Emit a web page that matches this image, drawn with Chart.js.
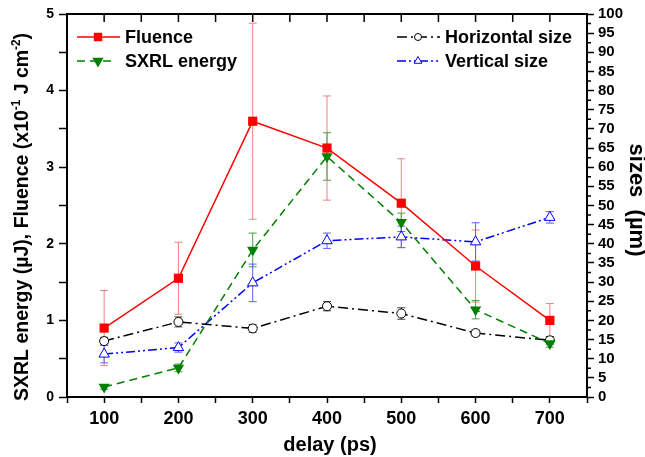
<!DOCTYPE html>
<html><head><meta charset="utf-8">
<script src="https://cdn.jsdelivr.net/npm/chart.js@4.4.1/dist/chart.umd.min.js"></script>
<style>html,body{margin:0;padding:0;background:#fff}canvas{display:block}</style>
</head><body>
<canvas id="c" width="645" height="457"></canvas>
<script>
// ---- data ----
const delays = [100, 200, 300, 400, 500, 600, 700];
const fluence = [0.90, 1.55, 3.60, 3.25, 2.53, 1.71, 1.00];
const fluenceErr = [0.49, 0.47, 1.28, 0.68, 0.58, 0.47, 0.22];
const sxrlEnergy = [0.13, 0.38, 1.92, 3.14, 2.28, 1.14, 0.70];
const sxrlErr = [0.03, 0.05, 0.22, 0.31, 0.12, 0.12, 0.05];
const horizontalSize = [14.6, 19.6, 17.9, 23.7, 21.8, 16.7, 14.8];
const horizontalErr = [1.0, 1.3, 1.0, 1.2, 1.5, 0.8, 1.0];
const verticalSize = [11.2, 12.9, 29.8, 40.8, 41.8, 40.5, 46.9];
const verticalErr = [2.3, 1.2, 4.9, 2.0, 2.8, 5.0, 1.5];

const xTickValues = [50, 100, 150, 200, 250, 300, 350, 400, 450, 500, 550, 600, 650, 700, 750];
const xTickLabels = [100, 200, 300, 400, 500, 600, 700];
const leftTickValues = [0, 0.5, 1, 1.5, 2, 2.5, 3, 3.5, 4, 4.5, 5];
const leftTickLabels = [0, 1, 2, 3, 4, 5];
const rightTickValues = [0, 5, 10, 15, 20, 25, 30, 35, 40, 45, 50, 55, 60, 65, 70, 75, 80, 85, 90, 95, 100];
const rightMinorValues = [2.5, 7.5, 12.5, 17.5, 22.5, 27.5, 32.5, 37.5, 42.5, 47.5, 52.5, 57.5, 62.5, 67.5, 72.5, 77.5, 82.5, 87.5, 92.5, 97.5];

const seriesNames = ['Fluence', 'SXRL energy', 'Horizontal size', 'Vertical size'];
const xTitle = 'delay (ps)';
const rightTitle = 'sizes  (\u00b5m)';

const FONT = '"Liberation Sans", Arial, sans-serif';
const pts = ys => delays.map((x, i) => ({x: x, y: ys[i]}));

function marker(ctx, style, x, y, r, rot, fill, stroke, bw) {
  ctx.save();
  ctx.beginPath();
  if (style === 'rect') {
    const s = r * Math.SQRT1_2;
    ctx.rect(x - s, y - s, 2 * s, 2 * s);
  } else if (style === 'triangle') {
    const dir = rot === 180 ? -1 : 1;
    const w = r * Math.sqrt(3) / 2;
    ctx.moveTo(x, y - dir * r);
    ctx.lineTo(x + w, y + dir * r / 2);
    ctx.lineTo(x - w, y + dir * r / 2);
    ctx.closePath();
  } else {
    ctx.arc(x, y, r, 0, Math.PI * 2);
  }
  ctx.fillStyle = fill; ctx.fill();
  if (bw > 0) { ctx.lineWidth = bw; ctx.strokeStyle = stroke; ctx.setLineDash([]); ctx.stroke(); }
  ctx.restore();
}

const errorBars = {
  id: 'errorBars',
  beforeDatasetsDraw(chart) {
    const ctx = chart.ctx;
    chart.data.datasets.forEach(ds => {
      const ys = chart.scales[ds.yAxisID];
      const xs = chart.scales.x;
      ctx.save();
      ctx.strokeStyle = ds.errColor; ctx.lineWidth = 1; ctx.setLineDash([]);
      ds.data.forEach((p, i) => {
        const e = ds.errors[i];
        const px = xs.getPixelForValue(p.x);
        const y1 = ys.getPixelForValue(p.y + e), y0 = ys.getPixelForValue(p.y - e);
        ctx.beginPath();
        ctx.moveTo(px, y0); ctx.lineTo(px, y1);
        ctx.moveTo(px - 4, y0); ctx.lineTo(px + 4, y0);
        ctx.moveTo(px - 4, y1); ctx.lineTo(px + 4, y1);
        ctx.stroke();
      });
      ctx.restore();
    });
  }
};

const decorations = {
  id: 'decorations',
  afterDraw(chart) {
    const ctx = chart.ctx, a = chart.chartArea;
    const xs = chart.scales.x, y2 = chart.scales.y2;
    ctx.save();
    // top frame + inward ticks
    ctx.strokeStyle = '#000'; ctx.lineWidth = 2;
    ctx.beginPath(); ctx.moveTo(a.left - 1, a.top); ctx.lineTo(a.right + 1, a.top); ctx.stroke();
    ctx.lineWidth = 1.5;
    ctx.beginPath();
    xTickValues.forEach(v => { const px = xs.getPixelForValue(v); ctx.moveTo(px, a.top); ctx.lineTo(px, a.top + 8); });
    // right axis minor ticks
    rightMinorValues.forEach(v => { const py = y2.getPixelForValue(v); ctx.moveTo(a.right, py); ctx.lineTo(a.right + 4, py); });
    ctx.stroke();

    // left title (rich text with superscripts)
    const segs = [
      {t: 'SXRL energy (\u00b5J), Fluence (x10', s: 20, r: 0},
      {t: '-1', s: 12, r: -8},
      {t: ' J cm', s: 20, r: 0},
      {t: '-2', s: 12, r: -8},
      {t: ')', s: 20, r: 0}
    ];
    ctx.fillStyle = '#000';
    ctx.textBaseline = 'alphabetic'; ctx.textAlign = 'left';
    let total = 0;
    segs.forEach(g => { ctx.font = 'bold ' + g.s + 'px ' + FONT; g.w = ctx.measureText(g.t).width; total += g.w; });
    ctx.save();
    ctx.translate(28, 217); ctx.rotate(-Math.PI / 2); ctx.scale(0.975, 1);
    let x = -total / 2;
    segs.forEach(g => { ctx.font = 'bold ' + g.s + 'px ' + FONT; ctx.fillText(g.t, x, g.r); x += g.w; });
    ctx.restore();

    // right title
    ctx.save();
    ctx.font = 'bold 22px ' + FONT; ctx.textAlign = 'center';
    ctx.translate(630, 200); ctx.rotate(Math.PI / 2);
    ctx.fillText(rightTitle, 0, 0);
    ctx.restore();

    // x title
    ctx.font = 'bold 20px ' + FONT; ctx.textAlign = 'center';
    ctx.fillText(xTitle, 330, 451);

    // legend
    const entries = [
      {d: 0, x0: 77, x1: 120, mx: 98, tx: 125, y: 37, r: 6},
      {d: 1, x0: 77, x1: 115, mx: 98, tx: 125, y: 61, r: 6.5},
      {d: 2, x0: 397, x1: 440, mx: 418, tx: 445, y: 37, r: 3.5},
      {d: 3, x0: 397, x1: 440, mx: 418, tx: 445, y: 61, r: 4.5}
    ];
    entries.forEach(en => {
      const ds = chart.data.datasets[en.d];
      ctx.save();
      ctx.strokeStyle = ds.borderColor; ctx.lineWidth = ds.borderWidth;
      ctx.setLineDash(ds.borderDash || []);
      ctx.beginPath(); ctx.moveTo(en.x0, en.y); ctx.lineTo(en.x1, en.y); ctx.stroke();
      ctx.restore();
      marker(ctx, ds.pointStyle, en.mx, en.y, en.r, ds.pointRotation || 0, ds.pointBackgroundColor, ds.pointBorderColor, ds.pointBorderWidth);
      ctx.fillStyle = '#000'; ctx.font = 'bold 18px ' + FONT;
      ctx.textAlign = 'left'; ctx.textBaseline = 'middle';
      ctx.fillText(seriesNames[en.d], en.tx, en.y + 1);
    });
    ctx.restore();
  }
};

const axisCommon = {
  grid: {drawOnChartArea: false, drawTicks: true, tickLength: 8, tickWidth: 1.5, tickColor: '#000'},
  border: {display: true, color: '#000', width: 2}
};

new Chart(document.getElementById('c'), {
  type: 'line',
  data: {
    datasets: [
      {label: seriesNames[0], data: pts(fluence), errors: fluenceErr, errColor: '#f08080', yAxisID: 'y',
       borderColor: '#ff0000', borderWidth: 1.5, pointStyle: 'rect', pointRadius: 6.5,
       pointBackgroundColor: '#ff0000', pointBorderColor: '#ff0000', pointBorderWidth: 0, fill: false},
      {label: seriesNames[1], data: pts(sxrlEnergy), errors: sxrlErr, errColor: '#4aa04a', yAxisID: 'y',
       borderColor: '#007f00', borderWidth: 1.5, borderDash: [8, 5], pointStyle: 'triangle', pointRotation: 180, pointRadius: 6.5,
       pointBackgroundColor: '#007f00', pointBorderColor: '#007f00', pointBorderWidth: 0, fill: false},
      {label: seriesNames[2], data: pts(horizontalSize), errors: horizontalErr, errColor: '#404040', yAxisID: 'y2',
       borderColor: '#000000', borderWidth: 1.5, borderDash: [10, 4, 2, 4], pointStyle: 'circle', pointRadius: 4.5,
       pointBackgroundColor: '#ffffff', pointBorderColor: '#000000', pointBorderWidth: 1, fill: false},
      {label: seriesNames[3], data: pts(verticalSize), errors: verticalErr, errColor: '#6060ff', yAxisID: 'y2',
       borderColor: '#0000ff', borderWidth: 1.5, borderDash: [9, 3, 2, 3, 2, 3], pointStyle: 'triangle', pointRadius: 6,
       pointBackgroundColor: '#ffffff', pointBorderColor: '#0000ff', pointBorderWidth: 1, fill: false}
    ]
  },
  options: {
    responsive: false, animation: false,
    layout: {padding: {top: 14, left: 0, right: 0, bottom: 0}},
    plugins: {legend: {display: false}, tooltip: {enabled: false}},
    elements: {line: {tension: 0}},
    scales: {
      x: Object.assign({}, axisCommon, {
        type: 'linear', min: 50, max: 750, position: 'bottom',
        grid: Object.assign({}, axisCommon.grid, {tickLength: 6}),
        afterBuildTicks: s => { s.ticks = xTickValues.map(v => ({value: v})); },
        afterFit: s => { s.height = 60; },
        ticks: {autoSkip: false, maxRotation: 0, padding: 5, color: '#000', font: {family: FONT, weight: 'bold', size: 18},
                callback: v => xTickLabels.includes(v) ? String(v) : ''}
      }),
      y: Object.assign({}, axisCommon, {
        type: 'linear', min: 0, max: 5, position: 'left',
        afterBuildTicks: s => { s.ticks = leftTickValues.map(v => ({value: v})); },
        afterFit: s => { s.width = 67; },
        ticks: {autoSkip: false, padding: 5, color: '#000', font: {family: FONT, weight: 'bold', size: 14},
                callback: v => leftTickLabels.includes(v) ? String(v) : ''}
      }),
      y2: Object.assign({}, axisCommon, {
        type: 'linear', min: 0, max: 100, position: 'right',
        grid: Object.assign({}, axisCommon.grid, {tickLength: 7}),
        afterBuildTicks: s => { s.ticks = rightTickValues.map(v => ({value: v})); },
        afterFit: s => { s.width = 58; },
        ticks: {autoSkip: false, padding: 4, color: '#000', font: {family: FONT, weight: 'bold', size: 15},
                callback: v => String(v)}
      })
    }
  },
  plugins: [errorBars, decorations]
});
</script>
</body></html>
